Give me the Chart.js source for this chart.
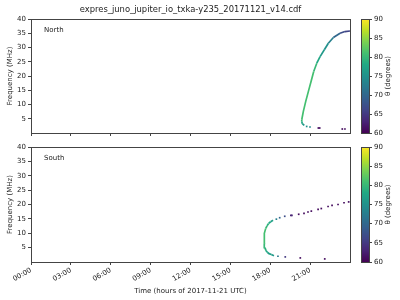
<!DOCTYPE html>
<html>
<head>
<meta charset="utf-8">
<script src="https://cdn.jsdelivr.net/npm/chart.js@4/dist/chart.umd.min.js"></script>
<style>
  body { margin: 0; background: #fff; }
  #wrap { position: relative; width: 400px; height: 300px; }
  canvas { position: absolute; }
</style>
</head>
<body>
<div id="wrap">
  <canvas id="north" width="381" height="140" style="left:0;top:0"></canvas>
  <canvas id="south" width="381" height="160" style="left:0;top:140px"></canvas>
  <canvas id="cbNorth" width="45" height="140" style="left:355px;top:0"></canvas>
  <canvas id="cbSouth" width="45" height="160" style="left:355px;top:140px"></canvas>
</div>
<script>
const title = 'expres_juno_jupiter_io_txka-y235_20171121_v14.cdf';
const xTitle = 'Time (hours of 2017-11-21 UTC)';
const yTitle = 'Frequency (MHz)';
const cbTitle = 'θ (degrees)';
const hourTicks = [0, 3, 6, 9, 12, 15, 18, 21];
const freqTicks = [5, 10, 15, 20, 25, 30, 35, 40];
const thetaTicks = [60, 65, 70, 75, 80, 85, 90];

// North: dense curve + sparse dots
const northLineHours = [20.56, 20.41, 20.37, 20.37, 20.49, 20.67, 20.87, 21.07, 21.27, 21.50, 21.75, 22.07, 22.37, 22.75, 23.25, 23.62, 24.00];
const northLineFreq = [2.66, 3.26, 4.06, 4.66, 7.6, 11.1, 14.6, 18.1, 21.6, 24.5, 26.8, 29.2, 31.5, 33.5, 35.0, 35.6, 35.8];
const northLineTheta = [76, 78, 80, 81, 81, 81, 81, 81, 80, 78, 76, 75, 73, 70, 67, 66, 65];
const northDotHours = [20.74, 20.99, 21.62, 21.72, 23.42, 23.62];
const northDotFreq = [2.3, 2.1, 1.75, 1.75, 1.4, 1.4];
const northDotTheta = [75, 74, 61, 61, 61, 61];

// South
const southLineHours = [18.28, 18.08, 17.91, 17.78, 17.68, 17.60, 17.55, 17.53, 17.58, 17.66, 17.76, 17.88, 18.03, 18.21];
const southLineFreq = [2.2, 2.6, 2.9, 3.4, 3.95, 5.0, 6.5, 8.2, 10.0, 11.7, 12.6, 13.4, 14.0, 14.5];
const southLineTheta = [76, 77, 77, 78, 79, 80, 81, 81, 81, 80, 79, 78, 77, 76];
const southDotHours = [18.58, 19.13, 20.26, 22.10, 18.46, 18.71, 19.09, 19.55, 19.63, 20.14, 20.54, 20.84, 21.09, 21.60, 21.84, 22.35, 22.65, 23.10, 23.55, 23.90];
const southDotFreq = [2.0, 1.77, 1.42, 1.07, 14.9, 15.4, 15.9, 16.2, 16.2, 16.6, 16.9, 17.4, 17.7, 18.3, 18.6, 19.3, 19.7, 20.0, 20.6, 20.9];
const southDotTheta = [72, 65, 61, 61, 73, 70, 67, 63, 63, 61, 61, 61, 61, 61, 61, 61, 61, 61, 61, 61];

const FONT = 'DejaVu Sans';
const TXT = '#222';
const AXC = '#444';

const viridisStops = [
  [68, 1, 84], [72, 36, 117], [65, 68, 135], [53, 95, 141], [42, 120, 142], [33, 145, 140],
  [34, 168, 132], [68, 191, 112], [122, 209, 81], [189, 223, 38], [253, 231, 37]
];
function viridis(t) {
  t = Math.max(0, Math.min(1, t)) * 10;
  const i = Math.min(9, Math.floor(t));
  const f = t - i;
  const a = viridisStops[i], b = viridisStops[i + 1];
  const c = a.map((v, k) => Math.round(v + (b[k] - v) * f));
  return `rgb(${c[0]},${c[1]},${c[2]})`;
}
const thetaColor = th => viridis((th - 60) / 30);

const toPoints = (xs, ys) => xs.map((x, i) => ({ x: x, y: ys[i] }));

// box around the plot area, panel name, and figure title centred on the axes
const boxPlugin = {
  id: 'box',
  afterDraw(chart, args, opts) {
    const ca = chart.chartArea, ctx = chart.ctx;
    ctx.save();
    ctx.strokeStyle = AXC;
    ctx.lineWidth = 1;
    ctx.strokeRect(ca.left + 0.5, ca.top + 0.5, ca.right - ca.left, ca.bottom - ca.top);
    ctx.fillStyle = TXT;
    ctx.textBaseline = 'middle';
    if (opts.label) {
      ctx.font = '7px ' + FONT;
      ctx.fillText(opts.label, ca.left + 13, ca.top + 11);
    }
    if (opts.title) {
      ctx.font = '8.4px ' + FONT;
      ctx.textAlign = 'center';
      ctx.fillText(opts.title, (ca.left + ca.right) / 2, 10);
    }
    ctx.restore();
  }
};

function makePanel(id, label, lineH, lineF, lineT, dotH, dotF, dotT, isBottom) {
  new Chart(document.getElementById(id), {
    type: 'scatter',
    data: {
      datasets: [{
        data: toPoints(lineH, lineF),
        showLine: true,
        borderWidth: 1.7,
        pointRadius: 0,
        borderColor: thetaColor(80),
        segment: { borderColor: c => thetaColor(lineT[c.p0DataIndex]) }
      }, {
        data: toPoints(dotH, dotF),
        pointStyle: 'rect',
        pointRadius: 1.2,
        borderWidth: 0,
        backgroundColor: dotT.map(thetaColor)
      }]
    },
    options: {
      responsive: false,
      animation: false,
      layout: { padding: { top: isBottom ? 7 : 19, right: 31, left: 0, bottom: 0 } },
      plugins: {
        legend: { display: false },
        tooltip: { enabled: false },
        box: { label: label, title: isBottom ? '' : title }
      },
      scales: {
        x: {
          type: 'linear', min: 0, max: 24,
          afterBuildTicks: s => { s.ticks = hourTicks.map(v => ({ value: v })); },
          afterFit: s => { s.height = isBottom ? 38 : 7; },
          ticks: {
            display: isBottom,
            minRotation: 30, maxRotation: 30,
            padding: 1,
            color: TXT,
            font: { family: FONT, size: 7 },
            callback: v => String(v).padStart(2, '0') + ':00'
          },
          grid: { drawOnChartArea: false, drawTicks: true, tickLength: 3, color: AXC },
          border: { color: AXC },
          title: {
            display: isBottom, text: xTitle, color: TXT,
            font: { family: FONT, size: 7 }, padding: { top: 0, bottom: 5 }
          }
        },
        y: {
          min: 0, max: 40,
          afterBuildTicks: s => { s.ticks = freqTicks.map(v => ({ value: v })); },
          afterFit: s => { s.width = 31; },
          ticks: { color: TXT, padding: 2, font: { family: FONT, size: 7 } },
          grid: { drawOnChartArea: false, drawTicks: true, tickLength: 3, color: AXC },
          border: { color: AXC },
          title: {
            display: true, text: yTitle, color: TXT,
            font: { family: FONT, size: 7 }, padding: { top: 6, bottom: 0 }
          }
        }
      }
    },
    plugins: [boxPlugin]
  });
}

makePanel('north', 'North', northLineHours, northLineFreq, northLineTheta, northDotHours, northDotFreq, northDotTheta, false);
makePanel('south', 'South', southLineHours, southLineFreq, southLineTheta, southDotHours, southDotFreq, southDotTheta, true);

// colour bar as a single floating bar 60..90
const cbPlugin = {
  id: 'cbTitle',
  afterDraw(chart) {
    const ca = chart.chartArea, ctx = chart.ctx;
    ctx.save();
    ctx.strokeStyle = AXC;
    ctx.strokeRect(ca.left + 0.5, ca.top + 0.5, ca.right - ca.left, ca.bottom - ca.top);
    ctx.translate(33, (ca.top + ca.bottom) / 2);
    ctx.rotate(-Math.PI / 2);
    ctx.fillStyle = TXT;
    ctx.font = '7px ' + FONT;
    ctx.textAlign = 'center';
    ctx.textBaseline = 'middle';
    ctx.fillText(cbTitle, 0, 0);
    ctx.restore();
  }
};

function makeColorbar(id, padTop, padBottom) {
  new Chart(document.getElementById(id), {
    type: 'bar',
    data: {
      labels: [''],
      datasets: [{
        data: [[thetaTicks[0], thetaTicks[thetaTicks.length - 1]]],
        barPercentage: 1,
        categoryPercentage: 1,
        borderWidth: 0,
        backgroundColor: c => {
          const ca = c.chart.chartArea;
          if (!ca) return thetaColor(75);
          const g = c.chart.ctx.createLinearGradient(0, ca.bottom, 0, ca.top);
          for (let i = 0; i <= 10; i++) g.addColorStop(i / 10, viridis(i / 10));
          return g;
        }
      }]
    },
    options: {
      responsive: false,
      animation: false,
      layout: { padding: { top: padTop, bottom: padBottom, left: 6, right: 0 } },
      plugins: { legend: { display: false }, tooltip: { enabled: false } },
      scales: {
        x: { display: false },
        y: {
          position: 'right',
          min: 60, max: 90,
          afterBuildTicks: s => { s.ticks = thetaTicks.map(v => ({ value: v })); },
          afterFit: s => { s.width = 31; },
          ticks: { color: TXT, padding: 2, font: { family: FONT, size: 7 } },
          grid: { drawOnChartArea: false, drawTicks: true, tickLength: 3, color: AXC },
          border: { color: AXC }
        }
      }
    },
    plugins: [cbPlugin]
  });
}

makeColorbar('cbNorth', 19, 7);
makeColorbar('cbSouth', 7, 38);
</script>
</body>
</html>
